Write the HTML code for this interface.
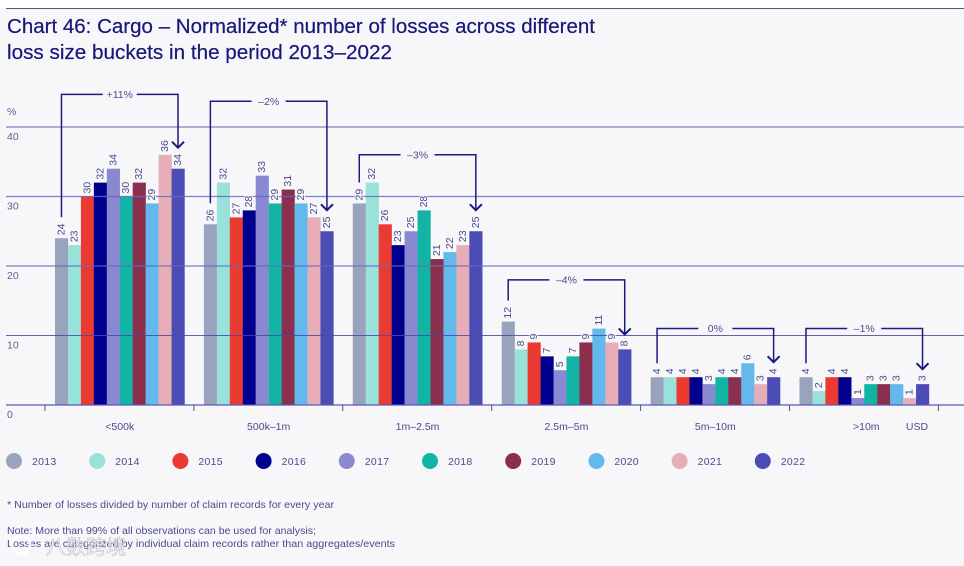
<!DOCTYPE html>
<html lang="en">
<head>
<meta charset="utf-8">
<title>Chart 46: Cargo</title>
<style>
html,body{margin:0;padding:0;background:#f7f7fa;}
svg{display:block;font-family:"Liberation Sans","Noto Sans CJK SC",sans-serif;}
</style>
</head>
<body>
<svg id="chart" width="964" height="566" viewBox="0 0 964 566" xmlns="http://www.w3.org/2000/svg">
  <rect x="0" y="0" width="964" height="566" fill="#f7f7fa"/>
  <rect x="0" y="0" width="964" height="8" fill="#ffffff"/>
  <line x1="6" y1="8.5" x2="964" y2="8.5" stroke="#55557f" stroke-width="1"/>
  <text x="7" y="33" font-size="20.5" fill="#17177a" stroke="#17177a" stroke-width="0.2" textLength="588" lengthAdjust="spacingAndGlyphs">Chart 46: Cargo – Normalized* number of losses across different</text>
  <text x="7" y="59" font-size="20.5" fill="#17177a" stroke="#17177a" stroke-width="0.2" textLength="385" lengthAdjust="spacingAndGlyphs">loss size buckets in the period 2013–2022</text>
  <text x="7" y="115" font-size="10.5" fill="#60608c">%</text>
  <g id="bars"></g>
  <g id="grid"></g>
  <g id="labels"></g>
  <g id="brackets"></g>
  <g id="axis"></g>
  <g id="legend"></g>
  <text x="7" y="508" font-size="10.3" fill="#4a4a90" textLength="327" lengthAdjust="spacingAndGlyphs">* Number of losses divided by number of claim records for every year</text>
  <text x="7" y="534" font-size="10.3" fill="#4a4a90" textLength="309" lengthAdjust="spacingAndGlyphs">Note: More than 99% of all observations can be used for analysis;</text>
  <text x="7" y="547" font-size="10.3" fill="#4a4a90" textLength="388" lengthAdjust="spacingAndGlyphs">Losses are categorized by individual claim records rather than aggregates/events</text>
  <circle cx="21" cy="545" r="9" fill="none" stroke="#ffffff" stroke-width="3" opacity="0.85"/>
  <text x="46" y="554" font-size="20" fill="#ffffff" stroke="#a8a8b0" stroke-width="0.5" opacity="0.85">八数跨境</text>
</svg>
<script>
const years = ['2013','2014','2015','2016','2017','2018','2019','2020','2021','2022'];
const categories = ['<500k','500k–1m','1m–2.5m','2.5m–5m','5m–10m','>10m'];
const valuesUnder500k = [24,23,30,32,34,30,32,29,36,34];
const values500kTo1m = [26,32,27,28,33,29,31,29,27,25];
const values1mTo2_5m = [29,32,26,23,25,28,21,22,23,25];
const values2_5mTo5m = [12,8,9,7,5,7,9,11,9,8];
const values5mTo10m = [4,4,4,4,3,4,4,6,3,4];
const valuesOver10m = [4,2,4,4,1,3,3,3,1,3];
const yTicks = [0,10,20,30,40];
const changeLabels = ['+11%','–2%','–3%','–4%','0%','–1%'];
const bracketLevels = [44.7,43.7,36,18,11,11];
const yearColors = ['#9aa3bd','#98e2da','#ea3a32','#00008f','#8a88d0','#12b5a5','#8a2f4d','#63b8ec','#e8aeb8','#4b4db5'];

const seriesByCategory = [valuesUnder500k,values500kTo1m,values1mTo2_5m,values2_5mTo5m,values5mTo10m,valuesOver10m];
const NS = 'http://www.w3.org/2000/svg';
const baseY = 405, unit = 6.95, groupStep = 148.9, firstGroupX = 55, barW = 12.95, firstTick = 45;
const navy = '#1a1a80', labelInk = '#4a4a90';

function yScale(v){ return baseY - v * unit; }
function groupX(g){ return firstGroupX + g * groupStep; }
function barX(g,i){ return groupX(g) + i * barW; }
function make(tag, attrs, parent, text){
  const el = document.createElementNS(NS, tag);
  for (const k in attrs) el.setAttribute(k, attrs[k]);
  if (text !== undefined) el.textContent = text;
  parent.appendChild(el);
  return el;
}
const barsLayer = document.getElementById('bars');
const gridLayer = document.getElementById('grid');
const labelsLayer = document.getElementById('labels');
const bracketsLayer = document.getElementById('brackets');
const axisLayer = document.getElementById('axis');
const legendLayer = document.getElementById('legend');

seriesByCategory.forEach(function(values,g){
  values.forEach(function(v,i){
    const bar = make('rect',{x:barX(g,i),y:yScale(v),width:barW+0.2,height:v*unit,fill:yearColors[i]},barsLayer);
    
    
    const cx = barX(g,i) + barW/2;
    const ly = yScale(v) - 3;
    const lab = make('text',{x:cx,y:ly,transform:'rotate(-90 '+cx+' '+ly+')','font-size':10.5,fill:labelInk,'dominant-baseline':'central',stroke:'#f7f7fa','stroke-width':2,'paint-order':'stroke'},labelsLayer,String(v));
    
    
  });
});

yTicks.forEach(function(t){
  const y = yScale(t);
  if (t > 0) {
    const gl = make('line',{x1:6,x2:964,y1:y,y2:y,stroke:t===10?'#4a48a8':'#6a68bf','stroke-width':t===10?1.1:1.3,opacity:0.85},gridLayer);
    
    
  }
  const tl = make('text',{x:7,y:y+13,'font-size':10.5,fill:'#60608c'},axisLayer,String(t));
  
  
});

const baseline = make('line',{x1:6,x2:964,y1:baseY,y2:baseY,stroke:'#5a58b8','stroke-width':1.2},axisLayer);



for (let k = 0; k <= categories.length; k++) {
  const tx = firstTick + k * groupStep;
  const tick = make('line',{x1:tx,x2:tx,y1:baseY,y2:baseY+6,stroke:'#55557f','stroke-width':1},axisLayer);
  
  
}

categories.forEach(function(c,g){
  const cx = groupX(g) + barW*5 + (g===5 ? 2 : 0);
  const cl = make('text',{x:cx,y:430,'font-size':10.5,fill:labelInk,'text-anchor':'middle'},axisLayer,c);
  
  
});
const usd = make('text',{x:917,y:430,'font-size':10.5,fill:labelInk,'text-anchor':'middle'},axisLayer,'USD');



seriesByCategory.forEach(function(values,g){
  const first = values[0], last = values[values.length-1];
  const x1 = barX(g,0) + barW/2;
  const x2 = barX(g,9) + barW/2;
  const top = yScale(bracketLevels[g]);
  const gapFirst = first >= 10 ? 21 : 14;
  const gapLast = last >= 10 ? 21 : 15;
  const y1 = yScale(first) - gapFirst;
  const y2 = yScale(last) - gapLast;
  const mid = (x1 + x2) / 2;
  const path = make('path',{d:'M'+x1+' '+y1+'V'+top+'H'+x2+'V'+y2,fill:'none',stroke:navy,'stroke-width':1.5},bracketsLayer);
  
  
  const head = make('path',{d:'M'+(x2-6)+' '+(y2-6)+'L'+x2+' '+y2+'L'+(x2+6)+' '+(y2-6),fill:'none',stroke:navy,'stroke-width':2},bracketsLayer);
  
  
  const gap = make('rect',{x:mid-17,y:top-3,width:34,height:6,fill:'#f7f7fa'},bracketsLayer);
  
  
  const t = make('text',{x:mid,y:top+3.5,'font-size':10.5,fill:labelInk,'text-anchor':'middle'},bracketsLayer,changeLabels[g]);
  
  
});

years.forEach(function(y,i){
  const lx = 14 + i * 83.2;
  const dot = make('circle',{cx:lx,cy:461,r:8,fill:yearColors[i]},legendLayer);
  
  
  const lt = make('text',{x:lx+18,y:465,'font-size':10.5,fill:labelInk,'letter-spacing':'0.3'},legendLayer,y);
  
  
});
</script>
</body>
</html>
